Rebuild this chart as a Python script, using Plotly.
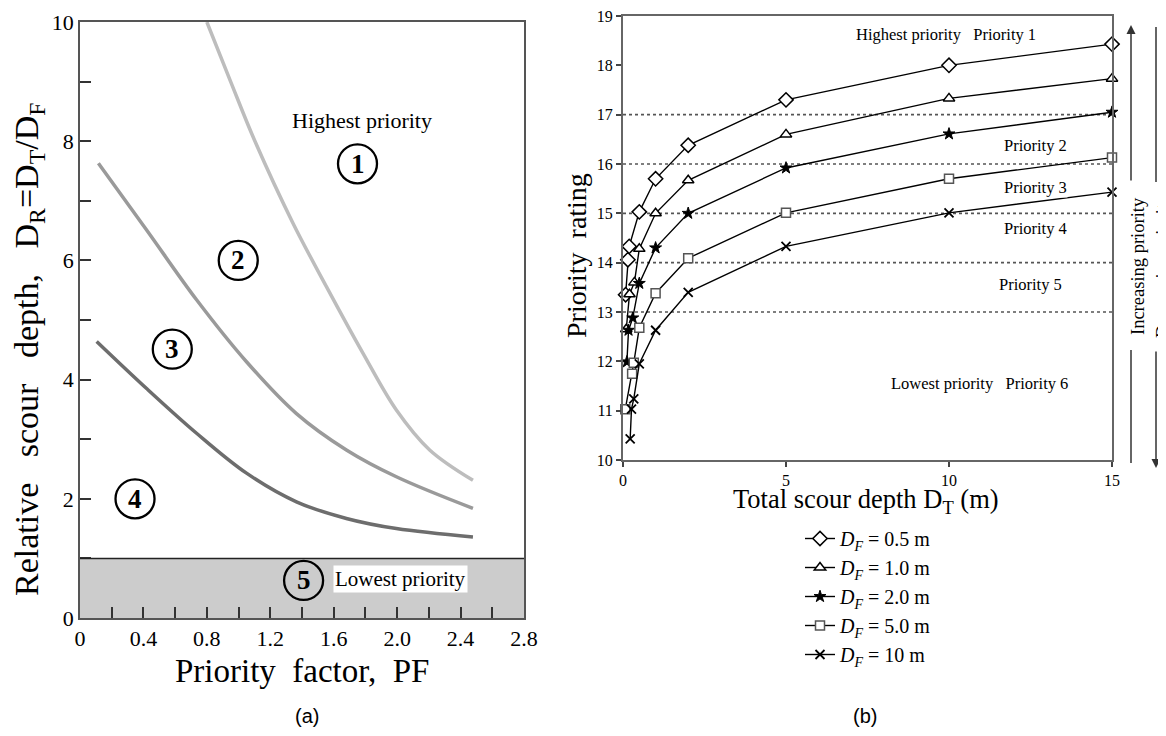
import plotly.graph_objects as go

# ---------------- Panel (a) data ----------------
pf_high = [0.80, 0.95, 1.10, 1.344, 1.554, 1.785, 1.995, 2.205, 2.478]
dr_high = [10.0, 9.00, 8.02, 6.62, 5.56, 4.44, 3.49, 2.82, 2.31]
pf_mid = [0.116, 0.42, 0.735, 1.05, 1.365, 1.68, 1.995, 2.478]
dr_mid = [7.63, 6.51, 5.34, 4.30, 3.43, 2.82, 2.37, 1.84]
pf_low = [0.105, 0.42, 0.735, 1.05, 1.365, 1.68, 1.995, 2.478]
dr_low = [4.64, 3.85, 3.10, 2.43, 1.95, 1.67, 1.50, 1.36]
band_top = 1.0
zone_labels = ["1", "2", "3", "4", "5"]
zone_pf = [1.75, 0.998, 0.582, 0.347, 1.41]
zone_dr = [7.62, 6.00, 4.51, 2.00, 0.63]
x_ticks_a = [0, 0.2, 0.4, 0.6, 0.8, 1.0, 1.2, 1.4, 1.6, 1.8, 2.0, 2.2, 2.4, 2.6, 2.8]
x_text_a = ["0", "", "0.4", "", "0.8", "", "1.2", "", "1.6", "", "2.0", "", "2.4", "", "2.8"]
y_ticks_a = list(range(0, 11))
y_text_a = ["0", "", "2", "", "4", "", "6", "", "8", "", "10"]

# ---------------- Panel (b) data ----------------
series_names = ["0.5", "1.0", "2.0", "5.0", "10"]
dt_05 = [0.08, 0.15, 0.19, 0.5, 1, 2, 5, 10, 15]
pr_05 = [13.35, 14.06, 14.33, 15.03, 15.70, 16.38, 17.30, 18.00, 18.43]
dt_10 = [0.10, 0.20, 0.35, 0.5, 1, 2, 5, 10, 15]
pr_10 = [12.65, 13.36, 13.60, 14.28, 15.00, 15.67, 16.60, 17.33, 17.73]
dt_20 = [0.12, 0.17, 0.30, 0.5, 1, 2, 5, 10, 15]
pr_20 = [11.99, 12.63, 12.88, 13.58, 14.30, 15.00, 15.92, 16.61, 17.05]
dt_50 = [0.07, 0.28, 0.33, 0.5, 1, 2, 5, 10, 15]
pr_50 = [11.03, 11.75, 11.97, 12.68, 13.38, 14.09, 15.01, 15.70, 16.13]
dt_100 = [0.22, 0.26, 0.33, 0.5, 1, 2, 5, 10, 15]
pr_100 = [10.43, 11.03, 11.24, 11.95, 12.63, 13.40, 14.33, 15.01, 15.43]
priority_lines = [13, 14, 15, 16, 17]
x_ticks_b = [0, 5, 10, 15]
y_ticks_b = [10, 11, 12, 13, 14, 15, 16, 17, 18, 19]

SERIF = "Liberation Serif"
SANS = "Liberation Sans"
OFF = 8  # default page body margin
W, H = 1166 - 2 * OFF, 736 - 2 * OFF


def px(x):
    return (x - OFF) / W


def py(y):
    return 1 - (y - OFF) / H


fig = go.Figure()

# Panel (a) curves
for xs, ys, col in [(pf_high, dr_high, "#bdbdbd"), (pf_mid, dr_mid, "#9a9a9a"), (pf_low, dr_low, "#6d6d6d")]:
    fig.add_trace(go.Scatter(x=xs, y=ys, mode="lines",
                             line=dict(color=col, width=3.5, shape="spline", smoothing=1.0),
                             xaxis="x", yaxis="y", showlegend=False, hoverinfo="skip"))

# Panel (b) series
styles = [
    dict(symbol="diamond", size=11, color="white", line=dict(color="black", width=1.5)),
    dict(symbol="triangle-up", size=10, color="white", line=dict(color="black", width=1.5)),
    dict(symbol="star", size=9, color="black", line=dict(color="black", width=1)),
    dict(symbol="square", size=9, color="white", line=dict(color="#555555", width=1.5)),
    dict(symbol="x-thin", size=9, color="black", line=dict(color="black", width=1.8)),
]
for name, xs, ys, mk in zip(series_names, [dt_05, dt_10, dt_20, dt_50, dt_100],
                            [pr_05, pr_10, pr_20, pr_50, pr_100], styles):
    fig.add_trace(go.Scatter(x=xs, y=ys, mode="lines+markers", line=dict(color="black", width=1.4),
                             marker=mk, xaxis="x2", yaxis="y2", cliponaxis=False,
                             name="<i>D</i><sub><i>F</i></sub> = " + name + " m"))

shapes = []
shapes.append(dict(type="rect", xref="x", yref="y", x0=0, x1=2.8, y0=0, y1=band_top,
                   fillcolor="#cccccc", line=dict(width=0), layer="below"))
shapes.append(dict(type="line", xref="x", yref="y", x0=0, x1=2.8, y0=band_top, y1=band_top,
                   line=dict(color="#222222", width=1.5)))
for zx, zy in zip(zone_pf, zone_dr):
    shapes.append(dict(type="circle", xref="x", yref="y", xsizemode="pixel", ysizemode="pixel",
                       xanchor=zx, yanchor=zy, x0=-19.5, x1=19.5, y0=-19.5, y1=19.5,
                       line=dict(color="black", width=2.3), fillcolor="rgba(0,0,0,0)"))
for pl in priority_lines:
    shapes.append(dict(type="line", xref="x2", yref="y2", x0=0, x1=15, y0=pl, y1=pl,
                       line=dict(color="#555555", width=1.6, dash="dot"), layer="below"))

# vertical arrow segments at right
shapes.append(dict(type="line", xref="paper", yref="paper", x0=px(1131), x1=px(1131), y0=py(463), y1=py(350),
                   line=dict(color="#333333", width=1.5)))
shapes.append(dict(type="line", xref="paper", yref="paper", x0=px(1156), x1=px(1156), y0=py(27), y1=py(182),
                   line=dict(color="#333333", width=1.5)))

annotations = []


def ann(x, y, text, size, family=SERIF, xref="paper", yref="paper", **kw):
    d = dict(x=x, y=y, xref=xref, yref=yref, text=text, showarrow=False, xanchor="center", yanchor="middle",
             font=dict(family=family, size=size, color="black"))
    d.update(kw)
    annotations.append(d)


for lab, xx, yy in zip(zone_labels, zone_pf, zone_dr):
    ann(xx, yy, "<b>" + lab + "</b>", 27, xref="x", yref="y")
ann(1.778, 8.34, "Highest priority", 22, xref="x", yref="y")
ann(2.02, 0.655, "Lowest priority", 21, xref="x", yref="y", bgcolor="white", borderpad=1)

ann(px(29), py(350),
    "Relative&nbsp;&nbsp;&nbsp;scour&nbsp;&nbsp;&nbsp;depth,&nbsp;&nbsp;&nbsp;D<sub>R</sub>=D<sub>T</sub>/D<sub>F</sub>",
    34, textangle=-90)
ann(px(302), py(671), "Priority&nbsp;&nbsp;factor,&nbsp;&nbsp;PF", 33)
ann(px(307), py(716), "(a)", 20, family=SANS)
ann(px(865), py(716), "(b)", 20, family=SANS)

ann(px(576), py(256), "Priority&nbsp;&nbsp;rating", 28, textangle=-90)
ann(px(866), py(501), "Total scour depth D<sub>T</sub> (m)", 26.5)

bsize = 16.5
ann(9.9, 18.62, "Highest priority&nbsp;&nbsp;&nbsp;Priority 1", bsize, xref="x2", yref="y2")
ann(12.65, 16.37, "Priority 2", bsize, xref="x2", yref="y2")
ann(12.65, 15.53, "Priority 3", bsize, xref="x2", yref="y2", bgcolor="white", borderpad=0)
ann(12.65, 14.70, "Priority 4", bsize, xref="x2", yref="y2")
ann(12.5, 13.56, "Priority 5", bsize, xref="x2", yref="y2")
ann(10.95, 11.56, "Lowest priority&nbsp;&nbsp;&nbsp;Priority 6", bsize, xref="x2", yref="y2")

annotations.append(dict(x=px(1131), y=py(25), xref="paper", yref="paper", ax=0, ay=157, text="",
                        showarrow=True, arrowhead=2, arrowsize=1.2, arrowwidth=1.5, arrowcolor="#333333"))
annotations.append(dict(x=px(1156), y=py(468), xref="paper", yref="paper", ax=0, ay=-118, text="",
                        showarrow=True, arrowhead=2, arrowsize=1.2, arrowwidth=1.5, arrowcolor="#333333"))
ann(px(1138), py(266), "Increasing priority", 18.5, textangle=-90)
ann(px(1163), py(266), "Decreasing priority", 18.5, textangle=-90)

axis_common = dict(showgrid=False, zeroline=False, showline=True, mirror=True, automargin=False,
                   ticklabeloverflow="allow")

fig.update_layout(
    width=W, height=H,
    margin=dict(l=0, r=0, t=0, b=0, autoexpand=False),
    paper_bgcolor="white", plot_bgcolor="white",
    xaxis=dict(domain=[px(80), px(524)], range=[0, 2.8], tickvals=x_ticks_a, ticktext=x_text_a,
               ticks="inside", ticklen=11, tickwidth=1.5, tickcolor="#333333",
               linecolor="#555555", linewidth=1.5, anchor="y",
               tickfont=dict(family=SERIF, size=22, color="black"), **axis_common),
    yaxis=dict(domain=[py(618), py(22)], range=[0, 10], tickvals=y_ticks_a, ticktext=y_text_a,
               ticks="inside", ticklen=11, tickwidth=1.5, tickcolor="#333333",
               linecolor="#555555", linewidth=1.5, anchor="x",
               tickfont=dict(family=SERIF, size=22, color="black"), **axis_common),
    xaxis2=dict(domain=[px(623), px(1112)], range=[0, 15], tickvals=x_ticks_b,
                ticks="outside", ticklen=5, tickwidth=1.5, tickcolor="#444444",
                linecolor="#666666", linewidth=2, anchor="y2",
                tickfont=dict(family=SERIF, size=16, color="black"), **axis_common),
    yaxis2=dict(domain=[py(460), py(16)], range=[10, 19], tickvals=y_ticks_b,
                ticks="outside", ticklen=5, tickwidth=1.5, tickcolor="#444444",
                linecolor="#666666", linewidth=2, anchor="x2",
                tickfont=dict(family=SERIF, size=16, color="black"), **axis_common),
    showlegend=True,
    legend=dict(x=px(800), y=py(519), xanchor="left", yanchor="top", bgcolor="rgba(255,255,255,0)",
                font=dict(family=SERIF, size=20, color="black"), tracegroupgap=0, itemwidth=30),
    shapes=shapes,
    annotations=annotations,
)

fig.write_html("out.html")
